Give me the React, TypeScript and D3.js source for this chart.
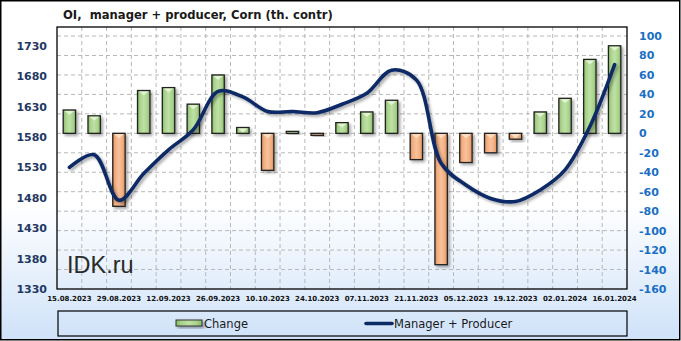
import React from "react";
import * as d3 from "d3";

const dates = [
  "15.08.2023", "22.08.2023", "29.08.2023", "05.09.2023", "12.09.2023", "19.09.2023",
  "26.09.2023", "03.10.2023", "10.10.2023", "17.10.2023", "24.10.2023", "31.10.2023",
  "07.11.2023", "14.11.2023", "21.11.2023", "28.11.2023", "05.12.2023", "12.12.2023",
  "19.12.2023", "26.12.2023", "02.01.2024", "09.01.2024", "16.01.2024",
];
const change = [24, 18, -75, 44, 47, 30, 60, 6, -38, 2, -2, 11, 22, 34, -27, -135, -30, -20, -6, 22, 36, 76, 90];
const managerProducer = [
  1530, 1551, 1476, 1520, 1559, 1592, 1655, 1646, 1622, 1622, 1620, 1634,
  1652, 1690, 1674, 1537, 1501, 1479, 1474, 1493, 1526, 1597, 1699,
];
const leftTicks = [1330, 1380, 1430, 1480, 1530, 1580, 1630, 1680, 1730];
const rightTicks = [-160, -140, -120, -100, -80, -60, -40, -20, 0, 20, 40, 60, 80, 100];
const title = "OI,  manager + producer, Corn (th. contr)";

const W = 681, H = 341;
const PL = 57, PR = 627, PT = 27, PB = 289;

export default function App() {
  const x = d3.scaleBand<string>().domain(dates).range([PL, PR]).padding(0);
  const bw = x.bandwidth();
  const yR = d3.scaleLinear().domain([-160, 109.3]).range([PB, PT]);
  const yL = d3.scaleLinear().domain([1330, 1761]).range([PB, PT]);
  const line = d3
    .line<number>()
    .x((_, i) => (x(dates[i]) as number) + bw / 2)
    .y((d) => yL(d))
    .curve(d3.curveCatmullRom.alpha(0.5));

  const font = "'DejaVu Sans', Verdana, sans-serif";

  return (
    <svg
      width={W}
      height={H}
      style={{ position: "absolute", left: 0, top: 0 }}
      xmlns="http://www.w3.org/2000/svg"
    >
      <defs>
        <linearGradient id="bg" x1="0" y1="0" x2="0" y2="1">
          <stop offset="0" stopColor="#ffffff" />
          <stop offset="0.6" stopColor="#ffffff" />
          <stop offset="1" stopColor="#cfe2f9" />
        </linearGradient>
        <linearGradient id="gGreen" x1="0" y1="0" x2="1" y2="0">
          <stop offset="0" stopColor="#86b866" />
          <stop offset="0.2" stopColor="#a9d38c" />
          <stop offset="0.5" stopColor="#bfe0a6" />
          <stop offset="0.8" stopColor="#a9d38c" />
          <stop offset="1" stopColor="#86b866" />
        </linearGradient>
        <linearGradient id="gOrange" x1="0" y1="0" x2="1" y2="0">
          <stop offset="0" stopColor="#d98d5c" />
          <stop offset="0.2" stopColor="#f2ad7f" />
          <stop offset="0.5" stopColor="#f8c29b" />
          <stop offset="0.8" stopColor="#f2ad7f" />
          <stop offset="1" stopColor="#d98d5c" />
        </linearGradient>
        <filter id="shadow" x="-50%" y="-50%" width="200%" height="200%">
          <feDropShadow dx="2" dy="2" stdDeviation="1.5" floodColor="#000" floodOpacity="0.35" />
        </filter>
      </defs>

      <rect x={0.75} y={0.75} width={W - 2} height={H - 2} fill="url(#bg)" stroke="#000" strokeWidth={1.5} />

      <text x={63} y={19} fontFamily={font} fontWeight="bold" fontSize={11.6} fill="#1a1a1a" style={{ whiteSpace: "pre" }}>
        {title}
      </text>

      {/* grid */}
      {rightTicks.filter((t) => t > -160).map((t) => (
        <line key={"h" + t} x1={PL} x2={PR} y1={yR(t)} y2={yR(t)} stroke="#b8b8b8" strokeWidth={1} strokeDasharray="4,3" />
      ))}
      {dates.slice(1).map((d) => (
        <line key={"v" + d} x1={x(d)} x2={x(d)} y1={PT} y2={PB} stroke="#b8b8b8" strokeWidth={1} strokeDasharray="4,3" />
      ))}

      <text x={67} y={273} fontFamily="'Liberation Sans', Arial, sans-serif" fontSize={23.5} fill="#2a2a2a">IDK.ru</text>

      {/* bars */}
      {change.map((v, i) => {
        const bx = (x(dates[i]) as number) + bw * 0.25;
        const w = bw * 0.5;
        const y0 = yR(0);
        const y1 = yR(v);
        const top = Math.min(y0, y1);
        const h = Math.max(Math.abs(y1 - y0), 2);
        const pos = v >= 0;
        const tri = Math.min(h - 1, 4);
        return (
          <g key={"b" + i} filter="url(#shadow)">
            <rect x={bx} y={top} width={w} height={h} fill={pos ? "url(#gGreen)" : "url(#gOrange)"} stroke="#222" strokeWidth={1.3} />
            {h > 4 && (
              <polygon
                points={`${bx + 1.5},${top + 1} ${bx + w - 1.5},${top + 1} ${bx + w / 2},${top + 1 + tri}`}
                fill={pos ? "#e2f2d3" : "#fde0c8"}
              />
            )}
          </g>
        );
      })}

      {/* line */}
      <path d={line(managerProducer) || ""} fill="none" stroke="#0b2a66" strokeWidth={3.6} strokeLinecap="round" filter="url(#shadow)" />

      {/* plot border */}
      <rect x={PL} y={PT} width={PR - PL} height={PB - PT} fill="none" stroke="#000" strokeWidth={1.3} />

      {/* left axis */}
      {leftTicks.map((t) => (
        <text key={"l" + t} x={47} y={yL(t)} dy="0.36em" textAnchor="end" fontFamily={font} fontWeight="bold" fontSize={11} fill="#1f3864">
          {t}
        </text>
      ))}
      {/* right axis */}
      {rightTicks.map((t) => (
        <text key={"r" + t} x={639} y={yR(t)} dy="0.36em" textAnchor="start" fontFamily={font} fontWeight="bold" fontSize={11} fill="#1a6fc4">
          {t}
        </text>
      ))}
      {/* x labels */}
      {dates.map((d, i) =>
        i % 2 === 0 ? (
          <text key={"x" + d} x={(x(d) as number) + bw / 2} y={300.5} textAnchor="middle" fontFamily={font} fontWeight="bold" fontSize={7} fill="#111">
            {d}
          </text>
        ) : null
      )}

      {/* legend */}
      <rect x={58} y={311} width={569} height={25} fill="none" stroke="#000" strokeWidth={1.2} />
      <g filter="url(#shadow)">
        <rect x={176} y={320} width={26} height={6} fill="url(#gGreen)" stroke="#333" strokeWidth={1} />
      </g>
      <text x={204} y={328} fontFamily={font} fontSize={11.5} fill="#1a1a1a">Change</text>
      <line x1={366} x2={392} y1={323.5} y2={323.5} stroke="#0b2a66" strokeWidth={3.6} strokeLinecap="round" />
      <text x={394} y={328} fontFamily={font} fontSize={11.5} fill="#1a1a1a">Manager + Producer</text>
    </svg>
  );
}
